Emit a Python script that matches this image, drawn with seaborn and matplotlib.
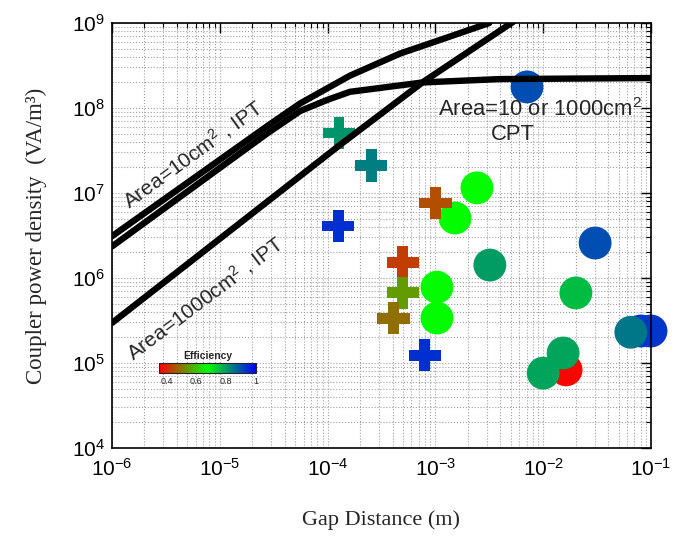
import numpy as np
import pandas as pd
import seaborn as sns
import matplotlib
matplotlib.use("Agg")
import matplotlib.pyplot as plt
from matplotlib.colors import LinearSegmentedColormap, Normalize
from matplotlib.cm import ScalarMappable
from matplotlib.ticker import LogLocator, NullFormatter

# measured systems: gap (m), power density (VA/m^3), efficiency
cpt_gap = [1.63e-2, 2.43e-3, 1.52e-3, 3.2e-3, 1.035e-3, 1.035e-3, 7.08e-3,
           3.03e-2, 2.01e-2, 8.07e-2, 1.0e-1, 6.5e-2, 1.53e-2, 1.0e-2]
cpt_density = [8.3e4, 1.15e7, 5.08e6, 1.42e6, 7.8e5, 3.38e5, 1.77e8,
               2.58e6, 6.67e5, 2.38e5, 2.38e5, 2.3e5, 1.31e5, 7.6e4]
cpt_eff = [0.36, 0.67, 0.67, 0.80, 0.67, 0.67, 0.90,
           0.90, 0.76, 0.93, 0.93, 0.85, 0.79, 0.79]

ipt_gap = [1.276e-4, 2.53e-4, 1.25e-4, 1.01e-3, 5.0e-4, 5.0e-4, 4.05e-4, 8.0e-4]
ipt_density = [5.08e7, 2.13e7, 4.09e6, 7.63e6, 1.54e6, 6.67e5, 3.38e5, 1.24e5]
ipt_eff = [0.81, 0.84, 0.94, 0.45, 0.43, 0.55, 0.49, 0.94]

# limit curves
ipt10_upper_x = [1e-6, 2.74e-5, 5.55e-5, 1.61e-4, 4.70e-4, 1.10e-3, 3.16e-3]
ipt10_upper_y = [3.1e6, 6.1e7, 1.13e8, 2.40e8, 4.37e8, 6.31e8, 1.0e9]
ipt10_lower_x = [1e-6, 2.74e-5, 5.55e-5, 1e-4, 1.61e-4, 7.67e-4, 3.98e-3, 1e-1]
ipt10_lower_y = [2.35e6, 5.0e7, 9.2e7, 1.25e8, 1.55e8, 2.0e8, 2.19e8, 2.25e8]
ipt1000_x = [1e-6, 1.30e-4, 7.67e-4, 5.25e-3]
ipt1000_y = [2.96e5, 3.67e7, 2.02e8, 1.03e9]

eff_ticks = [0.4, 0.6, 0.8, 1]
eff_labels = ["0.4", "0.6", "0.8", "1"]

sns.set_theme(style="white")
plt.rcParams["font.family"] = ["Liberation Sans", "DejaVu Sans"]
plt.rcParams["mathtext.fontset"] = "custom"
plt.rcParams["mathtext.rm"] = "Liberation Sans"
plt.rcParams["mathtext.it"] = "Liberation Sans:italic"

eff_cmap = LinearSegmentedColormap.from_list("eff", ["#ff0000", "#00ff00", "#0000ff"])
eff_norm = Normalize(0.35, 1.0)

points = pd.DataFrame({
    "gap": cpt_gap + ipt_gap,
    "density": cpt_density + ipt_density,
    "eff": cpt_eff + ipt_eff,
    "kind": ["CPT"] * len(cpt_gap) + ["IPT"] * len(ipt_gap),
})

fig = plt.figure(figsize=(6.89, 5.42), dpi=100)
ax = fig.add_axes([112 / 689, 1 - 448 / 542, 539 / 689, 425 / 542])
ax.set_xscale("log")
ax.set_yscale("log")

sns.scatterplot(data=points, x="gap", y="density", hue="eff", palette=eff_cmap,
                hue_norm=eff_norm, style="kind", markers={"CPT": "o", "IPT": "P"},
                s=560, linewidth=0, legend=False, clip_on=False, zorder=2, ax=ax)

for cx, cy in [(ipt10_upper_x, ipt10_upper_y), (ipt10_lower_x, ipt10_lower_y),
               (ipt1000_x, ipt1000_y)]:
    sns.lineplot(x=cx, y=cy, color="black", lw=4.6, zorder=3, ax=ax)

ax.set_xlim(1e-6, 1e-1)
ax.set_ylim(1e4, 1e9)

for axis in (ax.xaxis, ax.yaxis):
    axis.set_major_locator(LogLocator(base=10, numticks=20))
    axis.set_minor_locator(LogLocator(base=10, subs=np.arange(2, 10), numticks=20))
    axis.set_minor_formatter(NullFormatter())

ax.grid(which="both", linestyle=":", color="#a0a0a0", linewidth=0.8)
ax.tick_params(which="both", direction="in", top=True, right=True, colors="black",
               labelsize=15)
ax.tick_params(which="major", length=7, width=1)
ax.tick_params(which="minor", length=3.5, width=0.8)
ax.tick_params(axis="x", pad=7)
ax.tick_params(axis="y", pad=5)
for sp in ax.spines.values():
    sp.set_color("black")
    sp.set_linewidth(1.2)

ax.set_xlabel("Gap Distance (m)", family="Liberation Serif", fontsize=16, labelpad=22)
ax.set_ylabel("Coupler power density  (VA/m³)", family="Liberation Serif",
              fontsize=16.5, labelpad=18)

ax.text(5.64e-6, 2.9e7, "Area=10cm$^2$ , IPT", rotation=36, rotation_mode="anchor",
        ha="center", va="center", fontsize=15, zorder=4)
ax.text(7.3e-6, 5.8e5, "Area=1000cm$^2$ , IPT", rotation=37, rotation_mode="anchor",
        ha="center", va="center", fontsize=15, zorder=4)
ax.text(9.4e-3, 9.5e7, "Area=10 or 1000cm$^2$", ha="center", va="center",
        fontsize=15.8, zorder=4)
ax.text(5.25e-3, 4.9e7, "CPT", ha="center", va="center", fontsize=15.8, zorder=4)

# efficiency colour bar
cax = fig.add_axes([159 / 689, 1 - 373 / 542, 97 / 689, 10 / 542])
cb = fig.colorbar(ScalarMappable(norm=eff_norm, cmap=eff_cmap), cax=cax,
                  orientation="horizontal", ticks=eff_ticks)
cb.ax.set_xticklabels(eff_labels)
cb.ax.tick_params(labelsize=6.5, length=0, pad=3)
cb.outline.set_linewidth(0.8)
cax.set_title("Efficiency", fontsize=7.5, fontweight="bold", pad=3)

fig.savefig("out.png", dpi=100)
